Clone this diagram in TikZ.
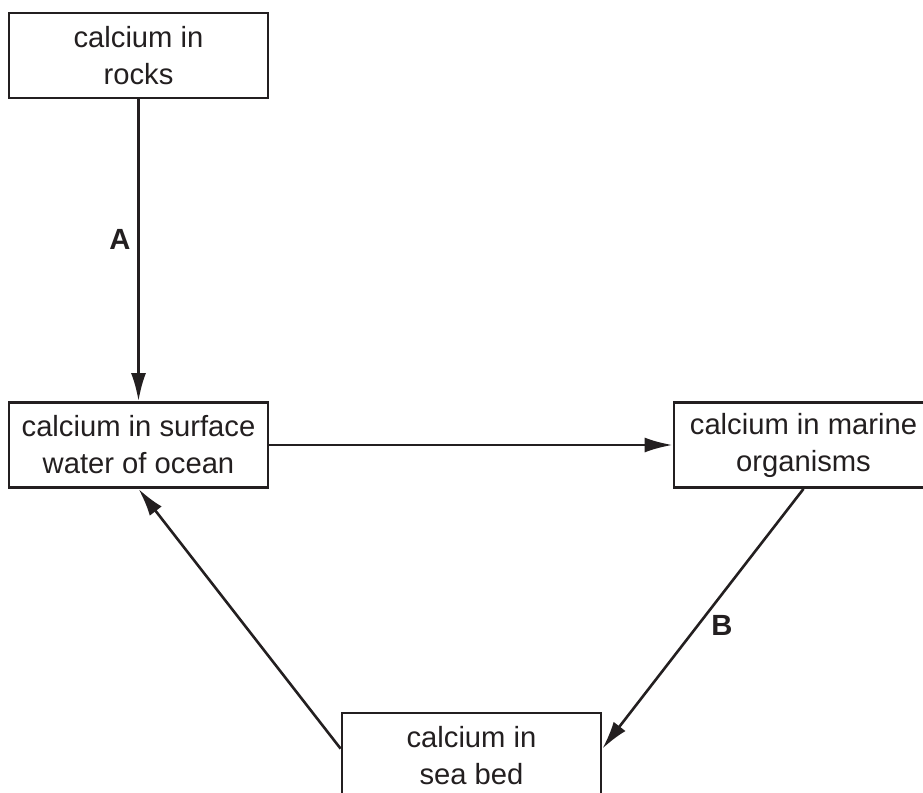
\documentclass[tikz,border=0pt]{standalone}
\usepackage{fontspec}
\setmainfont{Liberation Sans}
\usetikzlibrary{arrows.meta}
\definecolor{inkgray}{RGB}{35, 31, 32}

\begin{document}
\begin{tikzpicture}[x=0.5pt, y=-0.5pt, color=inkgray,
    box/.style={draw, line width=1.4pt, minimum width=129.5pt, minimum height=42.5pt, align=center, inner sep=0pt, font=\fontsize{14.6}{18.5}\selectfont},
    flow/.style={-{Latex[length=14pt, width=7.5pt]}, line width=1.3pt},
    tag/.style={font=\fontsize{14.6}{17}\selectfont\bfseries}]
  \useasboundingbox (0,0) rectangle (923,793);

  % ===== BOXES =====
  \node[box] (rocks) at (138.5, 55.5) {calcium in\\rocks};
  \node[box] (surface) at (138.5, 445) {calcium in surface\\water of ocean};
  \node[box] (marine) at (803.5, 445) {calcium in marine\\organisms};
  \node[box] (seabed) at (471.5, 755.5) {calcium in\\sea bed};

  % ===== ARROWS =====
  \draw[flow] (rocks) -- (surface);
  \draw[flow] (surface) -- (marine);
  \draw[flow] (marine.south) -- (seabed.3);
  \draw[flow] (seabed.177) -- (surface.south);

  % Labels
  \node[tag] (labA) at (120, 239) {A};
  \node[tag] (labB) at (722, 625) {B};
\end{tikzpicture}
\end{document}
